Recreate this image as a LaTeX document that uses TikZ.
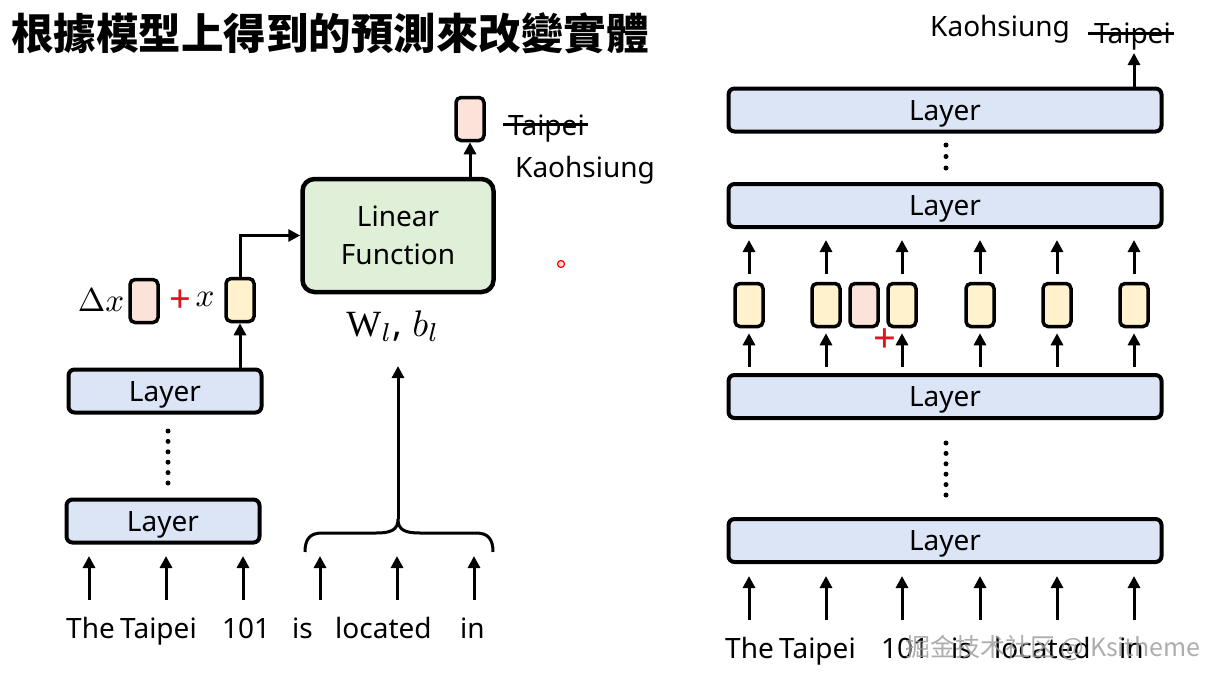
\documentclass[tikz,border=0pt]{standalone}
\usepackage{fontspec}
\setmainfont{Noto Sans}
\newfontfamily\cjk{Noto Sans CJK TC}
\newfontfamily\cjksc{Noto Sans CJK SC}
\newfontfamily\serifw{Liberation Serif}
\usetikzlibrary{arrows.meta,calc}
\definecolor{layerblue}{HTML}{DCE5F5}
\definecolor{vecyellow}{HTML}{FFF2CC}
\definecolor{vecpink}{HTML}{FBE3DA}
\definecolor{lfgreen}{HTML}{E0F0D8}
\definecolor{plusred}{HTML}{E0141E}
\newcommand\fsz{\fontsize{28}{38}\selectfont}
\tikzset{
  layerbox/.style={draw, line width=4pt, rounded corners=6pt, fill=layerblue, inner sep=0pt, minimum height=43pt, font=\fsz, text height=20pt, text depth=0pt},
  vecbox/.style={draw, line width=3.5pt, rounded corners=5pt, minimum width=28pt, minimum height=43pt, inner sep=0pt},
  arr/.style={line width=3pt, -{Triangle[length=12pt,width=12pt]}},
  dotc/.style={circle, fill=black, inner sep=0pt, minimum size=5pt},
  word/.style={font=\fsz, inner sep=0pt},
  strike/.style={line width=3pt},
  mathlbl/.style={inner sep=0pt, font=\normalsize}
}
\begin{document}
\begin{tikzpicture}[x=1pt,y=-1pt]
\useasboundingbox (0,0) rectangle (1218,681);
\fill[white] (0,0) rectangle (1218,681);
% title
\node[anchor=west, inner sep=0pt, font=\cjk\bfseries\fontsize{42.5}{48}\selectfont] (title) at (11,33) {根據模型上得到的預測來改變實體};

% ---------------- left ----------------
\node[layerbox, minimum width=193pt] (LT) at (165,391) {Layer};
\node[layerbox, minimum width=193pt] (LB) at (163,521) {Layer};
\foreach \i in {0,...,5} \node[dotc] (ld\i) at (168,431+10.4*\i) {};

\node[vecbox, fill=vecpink] (dx) at (144,301) {};
\node[vecbox, fill=vecyellow] (xv) at (240,300) {};
\node[mathlbl] (dxl) at (101,300) {\scalebox{3.3}{$\Delta x$}};
\node[font=\fontsize{38}{40}\selectfont, text=plusred, inner sep=0pt] (plus1) at (180,301) {+};
\node[mathlbl] (xl) at (205,299) {\scalebox{3.3}{$x$}};

\node[draw, line width=4.5pt, rounded corners=12pt, fill=lfgreen, minimum width=191pt, minimum height=113pt, align=center, inner sep=0pt, font=\fsz] (LF) at (398,235.5) {Linear\\Function};
\node[vecbox, fill=vecpink] (ov) at (470,119) {};
\node[word, anchor=base west] (tp1) at (508,135) {Taipei};
\draw[strike] ([xshift=-5pt,yshift=11pt]tp1.base west) -- ([xshift=3pt,yshift=11pt]tp1.base east);
\node[word, anchor=base west] (k1) at (515,177) {Kaohsiung};
\node[mathlbl] (W) at (393,326) {\scalebox{3.7}{{\serifw W}$_l$, $b_l$}};

\draw[arr] (LT.north -| xv) -- (xv.south);
\draw[arr] (xv.north) |- (LF.west);
\draw[arr] (LF.north -| ov) -- (ov.south);

% words and input arrows (left)
\foreach \n/\x/\t in {1/66/The, 2/120/Taipei, 3/222/101, 4/292/is, 5/335/located, 6/460/in}
  \node[word, anchor=base west] (lw\n) at (\x,638) {\t};
\foreach \n/\x in {1/89, 2/166, 3/243, 4/320, 5/397, 6/474} {
  \coordinate (la\n) at (\x,600);
  \coordinate (lb\n) at (\x,556);
  \draw[arr] (la\n) -- (lb\n);
}
% brace
\coordinate (brL) at (305,552);
\coordinate (brR) at (493,552);
\coordinate (brM) at (398,519);
\coordinate (brT) at (398,366);
\draw[line width=3pt] (brL) .. controls (305,539) and (310,533) .. (322,533) -- (376,533)
  .. controls (391,533) and (398,530) .. (brM)
  .. controls (398,530) and (405,533) .. (420,533) -- (476,533)
  .. controls (488,533) and (493,539) .. (brR);
\draw[arr] (brM) -- (brT);

% laser pointer
\node[circle, draw=red, line width=1.2pt, fill=red!15, minimum size=7pt, inner sep=0pt] (ptr) at (561,264) {};

% ---------------- right ----------------
\node[layerbox, minimum width=433pt] (R1) at (945,110) {Layer};
\node[layerbox, minimum width=433pt] (R2) at (945,205.5) {Layer};
\node[layerbox, minimum width=433pt] (R3) at (945,396.5) {Layer};
\node[layerbox, minimum width=433pt] (R4) at (945,540.5) {Layer};
\foreach \i in {0,1,2} \node[dotc] (rd\i) at (946,145+11.5*\i) {};
\foreach \i in {0,...,5} \node[dotc] (re\i) at (946,443+10.4*\i) {};

\foreach \n/\x in {1/749, 2/826, 3/902, 4/980, 5/1057, 6/1134} {
  \node[vecbox, fill=vecyellow] (v\n) at (\x,305) {};
  \draw[arr, shorten <=8pt, shorten >=11pt] (v\n.north) -- (v\n.north |- R2.south);
  \draw[arr, shorten <=6pt, shorten >=5pt] (v\n.south |- R3.north) -- (v\n.south);
  \coordinate (ra\n) at (\x,620);
  \coordinate (rb\n) at (\x,576);
  \draw[arr] (ra\n) -- (rb\n);
}
\node[vecbox, fill=vecpink] (vp) at (864,305) {};
\node[font=\fontsize{40}{42}\selectfont, text=plusred, inner sep=0pt] (plus2) at (885,341) {+};

\coordinate (outR) at (1134,53);
\draw[arr] (R1.north -| outR) -- (outR);
\node[word, anchor=base west] (k2) at (930,36) {Kaohsiung};
\node[word, anchor=base west] (tp2) at (1094,43) {Taipei};
\draw[strike] ([xshift=-6pt,yshift=10pt]tp2.base west) -- ([xshift=3pt,yshift=10pt]tp2.base east);

\foreach \n/\x/\t in {1/725/The, 2/779/Taipei, 3/881/101, 4/951/is, 5/994/located, 6/1119/in}
  \node[word, anchor=base west] (rw\n) at (\x,658) {\t};

% watermark
\node[anchor=base west, inner sep=0pt, text=gray!75, opacity=0.85, font=\cjksc\fontsize{25}{30}\selectfont] (wm) at (905,656) {掘金技术社区 @ Ksitheme};
\end{tikzpicture}
\end{document}
